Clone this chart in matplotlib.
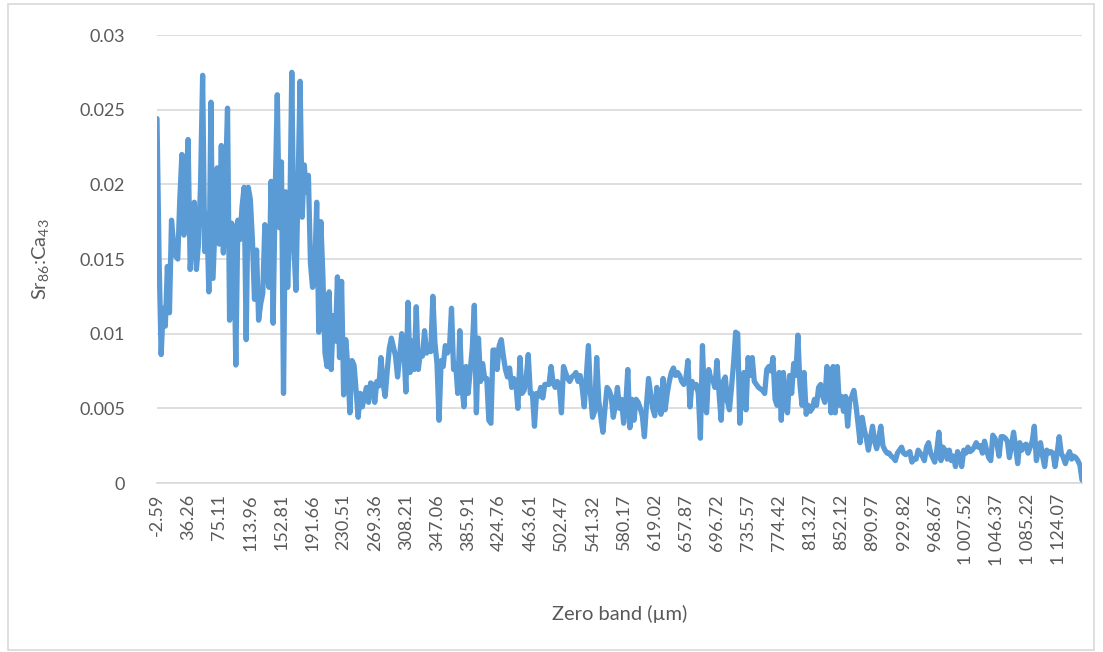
import numpy as np
import matplotlib.pyplot as plt
from matplotlib.patches import Rectangle

# Sr86:Ca43 ratio along the transect, 15 samples per labelled step
ratio = [
    0.0244, 0.0150, 0.0086, 0.0117, 0.0105, 0.0145, 0.0114, 0.0176, 0.0160, 0.0152, 0.0150, 0.0190, 0.0220, 0.0166, 0.0200,
    0.0230, 0.0143, 0.0165, 0.0188, 0.0143, 0.0160, 0.0200, 0.0273, 0.0155, 0.0180, 0.0128, 0.0255, 0.0137, 0.0175, 0.0211,
    0.0160, 0.0226, 0.0154, 0.0200, 0.0251, 0.0109, 0.0174, 0.0170, 0.0079, 0.0176, 0.0163, 0.0185, 0.0198, 0.0096, 0.0198,
    0.0190, 0.0163, 0.0123, 0.0156, 0.0109, 0.0120, 0.0127, 0.0173, 0.0140, 0.0131, 0.0202, 0.0107, 0.0195, 0.0260, 0.0171,
    0.0215, 0.0060, 0.0195, 0.0131, 0.0175, 0.0275, 0.0158, 0.0129, 0.0200, 0.0269, 0.0178, 0.0213, 0.0195, 0.0206, 0.0147,
    0.0131, 0.0140, 0.0188, 0.0101, 0.0175, 0.0138, 0.0087, 0.0078, 0.0128, 0.0076, 0.0112, 0.0095, 0.0138, 0.0084, 0.0135,
    0.0059, 0.0096, 0.0078, 0.0047, 0.0082, 0.0079, 0.0062, 0.0044, 0.0060, 0.0051, 0.0058, 0.0064, 0.0054, 0.0067, 0.0066,
    0.0054, 0.0068, 0.0065, 0.0084, 0.0067, 0.0058, 0.0075, 0.0090, 0.0097, 0.0091, 0.0085, 0.0071, 0.0085, 0.0100, 0.0091,
    0.0061, 0.0121, 0.0074, 0.0095, 0.0076, 0.0118, 0.0076, 0.0088, 0.0085, 0.0102, 0.0087, 0.0090, 0.0088, 0.0125, 0.0094,
    0.0080, 0.0042, 0.0082, 0.0078, 0.0092, 0.0087, 0.0090, 0.0117, 0.0076, 0.0080, 0.0060, 0.0102, 0.0065, 0.0051, 0.0078,
    0.0060, 0.0075, 0.0090, 0.0119, 0.0047, 0.0097, 0.0068, 0.0080, 0.0070, 0.0070, 0.0042, 0.0040, 0.0089, 0.0089, 0.0076,
    0.0092, 0.0096, 0.0085, 0.0076, 0.0071, 0.0077, 0.0064, 0.0070, 0.0067, 0.0050, 0.0084, 0.0060, 0.0062, 0.0070, 0.0086,
    0.0060, 0.0060, 0.0038, 0.0060, 0.0058, 0.0064, 0.0057, 0.0066, 0.0066, 0.0066, 0.0078, 0.0067, 0.0064, 0.0068, 0.0065,
    0.0047, 0.0078, 0.0074, 0.0070, 0.0068, 0.0071, 0.0072, 0.0074, 0.0068, 0.0072, 0.0064, 0.0051, 0.0072, 0.0092, 0.0060,
    0.0044, 0.0048, 0.0084, 0.0055, 0.0044, 0.0034, 0.0050, 0.0064, 0.0062, 0.0058, 0.0044, 0.0052, 0.0064, 0.0050, 0.0056,
    0.0040, 0.0052, 0.0076, 0.0037, 0.0056, 0.0042, 0.0056, 0.0054, 0.0050, 0.0045, 0.0031, 0.0052, 0.0070, 0.0060, 0.0050,
    0.0045, 0.0064, 0.0052, 0.0046, 0.0070, 0.0049, 0.0060, 0.0068, 0.0074, 0.0077, 0.0072, 0.0074, 0.0072, 0.0068, 0.0066,
    0.0070, 0.0082, 0.0051, 0.0068, 0.0064, 0.0066, 0.0060, 0.0030, 0.0092, 0.0053, 0.0047, 0.0076, 0.0070, 0.0069, 0.0064,
    0.0082, 0.0060, 0.0042, 0.0068, 0.0071, 0.0055, 0.0049, 0.0064, 0.0080, 0.0101, 0.0100, 0.0040, 0.0064, 0.0074, 0.0049,
    0.0084, 0.0072, 0.0084, 0.0068, 0.0066, 0.0064, 0.0063, 0.0062, 0.0060, 0.0076, 0.0078, 0.0075, 0.0084, 0.0056, 0.0052,
    0.0074, 0.0042, 0.0074, 0.0052, 0.0047, 0.0072, 0.0060, 0.0080, 0.0072, 0.0099, 0.0066, 0.0052, 0.0074, 0.0046, 0.0052,
    0.0048, 0.0050, 0.0056, 0.0052, 0.0064, 0.0066, 0.0058, 0.0054, 0.0078, 0.0070, 0.0047, 0.0078, 0.0047, 0.0078, 0.0052,
    0.0058, 0.0048, 0.0058, 0.0038, 0.0055, 0.0058, 0.0062, 0.0052, 0.0040, 0.0027, 0.0044, 0.0036, 0.0030, 0.0022, 0.0030,
    0.0038, 0.0028, 0.0023, 0.0030, 0.0038, 0.0025, 0.0022, 0.0020, 0.0020, 0.0018, 0.0017, 0.0015, 0.0020, 0.0022, 0.0024,
    0.0020, 0.0019, 0.0020, 0.0021, 0.0014, 0.0016, 0.0016, 0.0022, 0.0020, 0.0018, 0.0015, 0.0024, 0.0027, 0.0020, 0.0017,
    0.0014, 0.0022, 0.0034, 0.0015, 0.0024, 0.0022, 0.0016, 0.0022, 0.0015, 0.0018, 0.0011, 0.0021, 0.0018, 0.0011, 0.0022,
    0.0020, 0.0024, 0.0021, 0.0022, 0.0024, 0.0027, 0.0024, 0.0025, 0.0020, 0.0028, 0.0022, 0.0017, 0.0015, 0.0032, 0.0030,
    0.0026, 0.0018, 0.0031, 0.0031, 0.0030, 0.0028, 0.0017, 0.0025, 0.0034, 0.0024, 0.0013, 0.0027, 0.0022, 0.0025, 0.0026,
    0.0020, 0.0024, 0.0028, 0.0038, 0.0015, 0.0022, 0.0027, 0.0018, 0.0011, 0.0022, 0.0020, 0.0021, 0.0020, 0.0011, 0.0020,
    0.0031, 0.0020, 0.0017, 0.0013, 0.0018, 0.0021, 0.0016, 0.0018, 0.0017, 0.0015, 0.0012, 0.0002,
]

# distance labels (µm), one every 15 samples
band_labels = [
    "-2.59", "36.26", "75.11", "113.96", "152.81", "191.66", "230.51", "269.36",
    "308.21", "347.06", "385.91", "424.76", "463.61", "502.47", "541.32", "580.17",
    "619.02", "657.87", "696.72", "735.57", "774.42", "813.27", "852.12", "890.97",
    "929.82", "968.67", "1 007.52", "1 046.37", "1 085.22", "1 124.07",
]
label_every = 15

y_ticks = [0, 0.005, 0.01, 0.015, 0.02, 0.025, 0.03]
y_tick_text = ["0", "0.005", "0.01", "0.015", "0.02", "0.025", "0.03"]

plt.rcParams['font.family'] = ['Lato', 'DejaVu Sans']
plt.rcParams['mathtext.default'] = 'regular'

text_grey = '#595959'
grid_grey = '#d9d9d9'

fig = plt.figure(figsize=(11.03, 6.52), dpi=100)
ax = fig.add_axes([157 / 1103, 1 - 483 / 652, (1082 - 157) / 1103, (483 - 35) / 652])

idx = np.arange(len(ratio))
ax.plot(idx, ratio, color='#5b9bd5', linewidth=3.8,
        solid_joinstyle='round', solid_capstyle='round', zorder=3)

ax.set_xlim(0, len(ratio) - 1)
ax.set_ylim(0, 0.03)

ax.set_yticks(y_ticks)
ax.set_yticklabels(y_tick_text, fontsize=13, color=text_grey)
ax.set_xticks(idx[::label_every])
ax.set_xticklabels(band_labels, rotation=90, fontsize=13, color=text_grey)
ax.tick_params(axis='both', length=0)
ax.tick_params(axis='y', pad=23)
ax.tick_params(axis='x', pad=8)

ax.grid(axis='y', color=grid_grey, linewidth=1.2)
ax.set_axisbelow(True)
for side in ['left', 'right', 'top']:
    ax.spines[side].set_visible(False)
ax.spines['bottom'].set_color(grid_grey)
ax.spines['bottom'].set_linewidth(1.2)

ax.set_xlabel('Zero band (µm)', fontsize=14.5, color=text_grey, labelpad=28)
ax.set_ylabel('Sr$_{86}$:Ca$_{43}$', fontsize=14.5, color=text_grey, labelpad=20)

# thin frame round the whole chart
fig.patches.append(Rectangle((8 / 1103, 2 / 652), 1086 / 1103, 646 / 652,
                             transform=fig.transFigure, fill=False,
                             edgecolor=grid_grey, linewidth=1.2))

fig.savefig('out.png', dpi=100, facecolor='white')
